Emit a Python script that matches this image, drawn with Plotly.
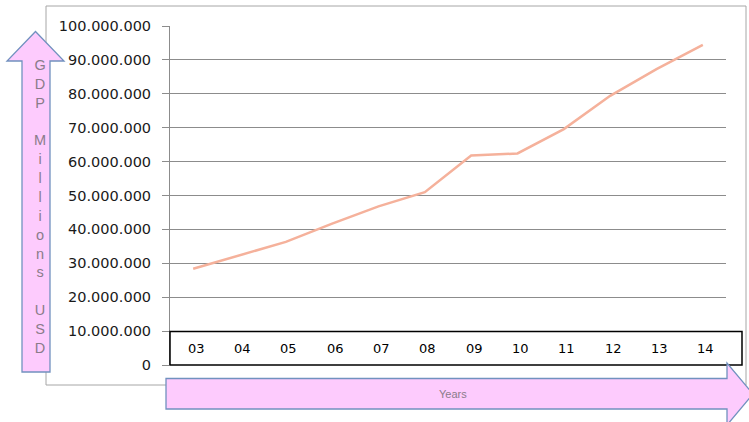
import plotly.graph_objects as go

# ---- data ----
years = ["03", "04", "05", "06", "07", "08", "09", "10", "11", "12", "13", "14"]
gdp = [28.4e6, 32.4e6, 36.3e6, 41.7e6, 46.8e6, 51.0e6, 61.8e6, 62.4e6, 69.6e6, 79.4e6, 87.3e6, 94.4e6]
y_title_letters = ["G", "D", "P", "", "M", "i", "l", "l", "i", "o", "n", "s", "", "U", "S", "D"]
x_title = "Years"

# ---- layout geometry (pixels) ----
WIDTH, HEIGHT = 749, 422
L, R, T, B = 170, 726, 26, 365
PW, PH = R - L, B - T


def px(x, y):
    return f"{(x - L) / PW:.5f},{(B - y) / PH:.5f}"


def path(points):
    return "M " + " L ".join(px(x, y) for x, y in points) + " Z"


PINK = "#FDCBFD"
PINK_LINE = "#7191BF"
GRID = "#8C8C8C"
LABEL_GREY = "#8A7C8A"

idx = list(range(len(years)))

fig = go.Figure()
fig.add_trace(go.Scatter(
    x=idx, y=gdp, mode="lines",
    line=dict(color="#F5B19B", width=2.5),
    hoverinfo="skip", showlegend=False,
))

shapes = [
    # chart-area border
    dict(type="rect", xref="paper", yref="paper",
         x0=(46 - L) / PW, x1=(746 - L) / PW, y0=(B - 385) / PH, y1=(B - 6) / PH,
         line=dict(color="#A6A6A6", width=1), fillcolor="rgba(0,0,0,0)", layer="below"),
    # year label box
    dict(type="rect", xref="paper", yref="paper",
         x0=0, x1=(742 - L) / PW, y0=0, y1=(B - 331.5) / PH,
         line=dict(color="#000000", width=1.5), fillcolor="white", layer="above"),
    # vertical arrow
    dict(type="path", xref="paper", yref="paper",
         path=path([(22, 372), (22, 61), (7, 61), (35.5, 31.5), (64, 61), (50, 61), (50, 372)]),
         fillcolor=PINK, line=dict(color=PINK_LINE, width=1.3), layer="above"),
    # horizontal arrow
    dict(type="path", xref="paper", yref="paper",
         path=path([(166, 378.5), (727, 378.5), (727, 363), (753, 394), (727, 425), (727, 409), (166, 409)]),
         fillcolor=PINK, line=dict(color=PINK_LINE, width=1.3), layer="above"),
]

annotations = []
for i, lab in enumerate(years):
    annotations.append(dict(
        x=i, y=5e6, xref="x", yref="y", text=lab, showarrow=False, xshift=3,
        font=dict(family="DejaVu Sans", size=13, color="#000000"),
        xanchor="center", yanchor="middle",
    ))

annotations.append(dict(
    xref="paper", yref="paper", x=(40 - L) / PW, y=(B - 206.5) / PH,
    text="<br>".join(c if c else " " for c in y_title_letters),
    showarrow=False, xanchor="center", yanchor="middle", align="center",
    font=dict(family="Liberation Sans", size=14.5, color=LABEL_GREY),
))
annotations.append(dict(
    xref="paper", yref="paper", x=(453 - L) / PW, y=(B - 394) / PH,
    text=x_title, showarrow=False, xanchor="center", yanchor="middle",
    font=dict(family="Liberation Sans", size=11, color=LABEL_GREY),
))

fig.update_layout(
    width=WIDTH, height=HEIGHT,
    margin=dict(l=L, r=WIDTH - R, t=T, b=HEIGHT - B, pad=0),
    paper_bgcolor="white", plot_bgcolor="white",
    separators=",.",
    shapes=shapes, annotations=annotations,
    showlegend=False,
    xaxis=dict(range=[-0.5, len(years) - 0.5], showgrid=False, zeroline=False,
               showticklabels=False, ticks="", showline=False, fixedrange=True),
    yaxis=dict(range=[0, 100e6], tickvals=[k * 10e6 for k in range(11)],
               tickformat=",.0f", showgrid=True, gridcolor=GRID, gridwidth=1,
               zeroline=False, showline=True, linecolor=GRID, linewidth=1,
               ticks="outside", ticklen=7, tickcolor=GRID, tickwidth=1,
               ticklabelstandoff=8,
               tickfont=dict(family="DejaVu Sans", size=14.5, color="#1A1A1A"),
               fixedrange=True),
)

fig.write_html("out.html", config={"displayModeBar": False, "staticPlot": True})
